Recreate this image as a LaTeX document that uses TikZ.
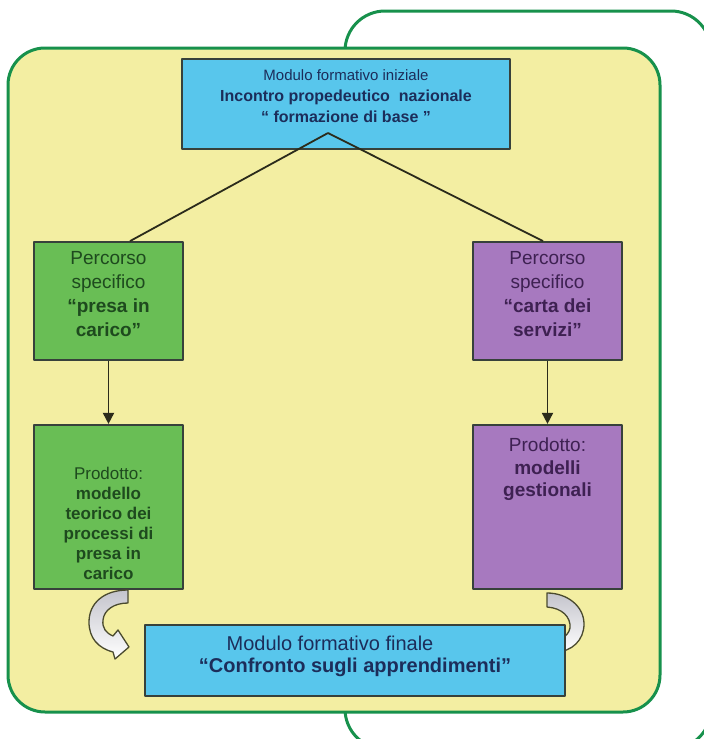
\documentclass[tikz,border=0pt]{standalone}
\usepackage{fontspec}
\setmainfont{Liberation Sans}
\usetikzlibrary{positioning,arrows.meta}
\definecolor{cornice}{HTML}{17914C}
\definecolor{sfondo}{HTML}{F3EEA2}
\definecolor{azzurro}{HTML}{58C6EC}
\definecolor{verde}{HTML}{69BE55}
\definecolor{viola}{HTML}{A779BF}
\definecolor{bordo}{HTML}{37413B}
\definecolor{nero}{HTML}{2B2B1B}
\definecolor{tblu}{HTML}{1C2D5A}
\definecolor{tverde}{HTML}{1E4A1E}
\definecolor{tviola}{HTML}{3E2152}
\definecolor{freccia}{HTML}{4A4A2E}
\definecolor{grigio}{HTML}{C4C4CC}
\begin{document}
\begin{tikzpicture}[x=1pt,y=-1pt,line join=round]
    \tikzset{riquadro/.style={draw=bordo,line width=1.8pt,inner sep=0pt,minimum width=149pt},
        blubox/.style={riquadro,fill=azzurro},
        verdebox/.style={riquadro,fill=verde},
        violabox/.style={riquadro,fill=viola},
        testo/.style={inner sep=0pt,align=center},
        linea/.style={draw=nero,line width=1.8pt},
        freccina/.style={linea,-{Triangle[length=11pt,width=11pt]}},
        curva/.style={draw=freccia,line width=1.3pt,top color=grigio,bottom color=white}}
    \useasboundingbox (0,0) rectangle (704,739);
    % cornici di fondo
    \begin{scope}
        \clip (0,0) rectangle (704,739);
        \draw[cornice,line width=3pt,fill=white,rounded corners=40pt] (345,11) rectangle (711,749);
    \end{scope}
    \draw[cornice,line width=3pt,fill=sfondo,rounded corners=37pt] (8,48) rectangle (660,712);
    % moduli e percorsi
    \node[blubox,minimum width=328pt,minimum height=90pt] (iniz) at (346,104) {};
    \node[verdebox,minimum height=118pt] (perc1) at (108.5,301) {};
    \node[verdebox,minimum height=164pt,below=63pt of perc1] (prod1) {};
    \node[violabox,minimum height=118pt] (perc2) at (547.5,301) {};
    \node[violabox,minimum height=164pt,below=63pt of perc2] (prod2) {};
    % frecce curve
    \draw[curva] (128,590) -- (128,603) .. controls (114,603) and (104,610) .. (103,620)
        .. controls (102,628) and (106,633) .. (113,636) -- (118,630) -- (129,647) -- (115,659) -- (113,652)
        .. controls (98,648) and (89,638) .. (89,622) .. controls (89,603) and (104,590) .. (128,590) -- cycle;
    \draw[curva] (547,593) -- (547,607) .. controls (562,608) and (571,617) .. (570,628)
        .. controls (569,633) and (566,636) .. (560,640) -- (555,652)
        .. controls (572,652) and (584,640) .. (584,624) .. controls (584,606) and (567,593) .. (547,593) -- cycle;
    \node[blubox,minimum width=420pt,minimum height=71pt] (fin) at (355,660.5) {};
    % testi
    \node[testo,text=tblu,font=\bfseries\fontsize{16}{21}\selectfont,below=11pt of iniz.north] (iniz-t)
        {{\mdseries\fontsize{15}{21}\selectfont Modulo formativo iniziale}\\Incontro propedeutico\ \ nazionale\\“ formazione di base ”};
    \node[testo,text=tverde,font=\fontsize{19}{24}\selectfont,below=10pt of perc1.north] (perc1-t)
        {Percorso\\specifico\\\textbf{“presa in}\\\textbf{carico”}};
    \node[testo,text=tverde,font=\fontsize{17}{20}\selectfont,below=43pt of prod1.north] (prod1-t)
        {Prodotto:\\\textbf{modello}\\\textbf{teorico dei}\\\textbf{processi di}\\\textbf{presa in}\\\textbf{carico}};
    \node[testo,text=tviola,font=\fontsize{19}{24}\selectfont,below=10pt of perc2.north] (perc2-t)
        {Percorso\\specifico\\\textbf{“carta dei}\\\textbf{servizi”}};
    \node[testo,text=tviola,font=\fontsize{19}{22.5}\selectfont,below=14pt of prod2.north] (prod2-t)
        {Prodotto:\\\textbf{modelli}\\\textbf{gestionali}};
    \node[testo,text=tblu,font=\fontsize{20}{22}\selectfont,below=12pt of fin.north] (fin-t)
        {\hspace*{-50pt}Modulo formativo finale\\\textbf{“Confronto sugli apprendimenti”}};
    % collegamenti
    \coordinate (vertice) at (328,133);
    \draw[linea] (vertice) -- ([xshift=21.5pt]perc1.north);
    \draw[linea] (vertice) -- ([xshift=-4.5pt]perc2.north);
    \draw[freccina] (perc1) -- (prod1);
    \draw[freccina] (perc2) -- (prod2);
\end{tikzpicture}
\end{document}
